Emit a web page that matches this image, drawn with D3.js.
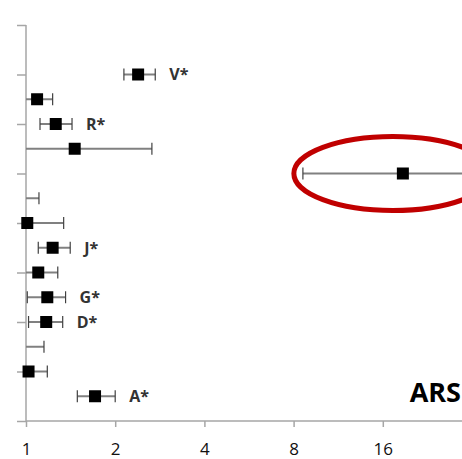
<!DOCTYPE html>
<html>
<head>
<meta charset="utf-8">
<script src="https://cdn.jsdelivr.net/npm/d3@7"></script>
<style>
  body { margin: 0; background: #fff; }
  svg { display: block; }
</style>
</head>
<body>
<svg id="chart"></svg>
<script>
// rows from bottom (1) to top (14); est = point estimate, lo/hi = interval
const rows   = [1, 2, 3, 4, 5, 6, 7, 8, 9, 10, 11, 12, 13, 14];
const est    = [1.71, 1.02, 0.9, 1.17, 1.18, 1.10, 1.23, 1.01, 0.9, 18.7, 1.46, 1.26, 1.09, 2.39];
const lower  = [1.49, 0.8, 0.7, 1.02, 1.01, 0.85, 1.10, 0.75, 0.7, 8.6, 0.7, 1.115, 0.95, 2.14];
const upper  = [2.00, 1.18, 1.15, 1.33, 1.36, 1.28, 1.41, 1.34, 1.106, 40, 2.66, 1.43, 1.23, 2.73];
const labels = ["A*", "", "", "D*", "G*", "", "J*", "", "", "", "", "R*", "", "V*"];
const xTicks = [1, 2, 4, 8, 16];
const yTicks = [0, 2, 4, 6, 8, 10, 12, 14, 16];
const highlightRow = 10;

const width = 462, height = 459;
const svg = d3.select("#chart").attr("width", width).attr("height", height);

const x = d3.scaleLog().base(2).domain([1, 32]).range([26, 26 + 5 * 89.2]);
const y = d3.scaleLinear().domain([0, 16]).range([421, 25]);

const data = rows.map((r, i) => ({ row: r, est: est[i], lo: lower[i], hi: upper[i], label: labels[i] }));

const clampX = v => x(Math.max(v, 1));

// y axis
const yAxis = svg.append("g")
  .attr("transform", `translate(${x(1)},0)`)
  .call(d3.axisLeft(y).tickValues(yTicks).tickSize(9).tickFormat(""));
yAxis.select(".domain").attr("stroke", "#a6a6a6").attr("stroke-width", 1.5).attr("d", `M0,${y(16)}V${y(0)}`);
yAxis.selectAll(".tick line").attr("stroke", "#a6a6a6").attr("stroke-width", 1.5);

// x axis
const xAxis = svg.append("g")
  .attr("transform", `translate(0,${y(0)})`)
  .call(d3.axisBottom(x).tickValues(xTicks).tickSize(6).tickPadding(16).tickFormat(d3.format("d")));
xAxis.select(".domain").attr("stroke", "#a6a6a6").attr("stroke-width", 1.5).attr("d", `M${x(1)},0H${width}`);
xAxis.selectAll(".tick line").attr("stroke", "#a6a6a6").attr("stroke-width", 1.5);
xAxis.selectAll(".tick text")
  .attr("font-family", "'Open Sans', sans-serif")
  .attr("font-size", 17)
  .attr("fill", "#111");

// whiskers
const g = svg.append("g");
g.selectAll(".whisker")
  .data(data)
  .join("line")
  .attr("class", "whisker")
  .attr("x1", d => clampX(d.lo))
  .attr("x2", d => x(d.hi))
  .attr("y1", d => y(d.row))
  .attr("y2", d => y(d.row))
  .attr("stroke", "#808080")
  .attr("stroke-width", 2);

const caps = [];
data.forEach(d => {
  if (d.lo >= 1) caps.push({ row: d.row, v: d.lo });
  if (x(d.hi) <= width) caps.push({ row: d.row, v: d.hi });
});
g.selectAll(".cap")
  .data(caps)
  .join("line")
  .attr("class", "cap")
  .attr("x1", d => x(d.v))
  .attr("x2", d => x(d.v))
  .attr("y1", d => y(d.row) - 6)
  .attr("y2", d => y(d.row) + 6)
  .attr("stroke", "#404040")
  .attr("stroke-width", 1.2);

// markers (only those inside the axis range)
g.selectAll(".dot")
  .data(data.filter(d => d.est >= 1))
  .join("rect")
  .attr("class", "dot")
  .attr("x", d => x(d.est) - 6)
  .attr("y", d => y(d.row) - 6)
  .attr("width", 12)
  .attr("height", 12)
  .attr("fill", "#000");

// labels
g.selectAll(".label")
  .data(data.filter(d => d.label))
  .join("text")
  .attr("class", "label")
  .attr("x", d => x(d.hi) + 14)
  .attr("y", d => y(d.row))
  .attr("dy", "0.36em")
  .attr("font-family", "'Open Sans', sans-serif")
  .attr("font-size", 16)
  .attr("font-weight", "bold")
  .attr("fill", "#333")
  .text(d => d.label);

// red highlight ellipse around the outlier row
svg.append("ellipse")
  .attr("cx", x(17.3))
  .attr("cy", y(highlightRow))
  .attr("rx", 99)
  .attr("ry", 37)
  .attr("fill", "none")
  .attr("stroke", "#c00000")
  .attr("stroke-width", 5);

svg.append("text")
  .attr("x", 461)
  .attr("y", 402)
  .attr("text-anchor", "end")
  .attr("font-family", "'Open Sans', sans-serif")
  .attr("font-size", 27)
  .attr("font-weight", "bold")
  .attr("fill", "#000")
  .text("ARS");
</script>
</body>
</html>
